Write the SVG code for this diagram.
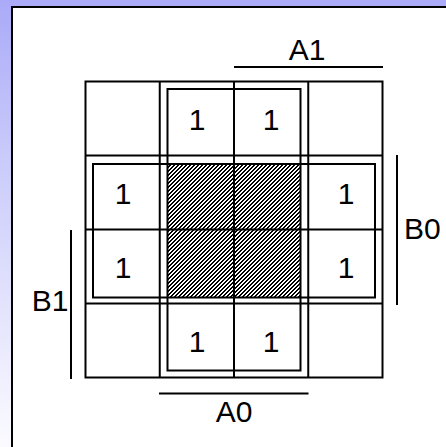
<svg xmlns="http://www.w3.org/2000/svg" width="446" height="447" viewBox="0 0 446 447">
<defs>
<linearGradient id="bg" x1="0" y1="0" x2="0" y2="1">
<stop offset="0" stop-color="#aaaaf8"/>
<stop offset="0.35" stop-color="#cacafb"/>
<stop offset="1" stop-color="#fbfbff"/>
</linearGradient>
<pattern id="hatch" x="0" y="0" width="4" height="4" patternUnits="userSpaceOnUse">
<rect width="4" height="4" fill="#fff"/>
<g fill="#000" shape-rendering="crispEdges">
<rect x="2" y="0" width="2" height="1"/>
<rect x="1" y="1" width="2" height="1"/>
<rect x="0" y="2" width="2" height="1"/>
<rect x="0" y="3" width="1" height="1"/>
<rect x="3" y="3" width="1" height="1"/>
</g>
</pattern>
<style>
.g{fill:none;stroke:#000;stroke-width:2}
.t{font-family:"Liberation Sans",Arial,sans-serif;font-size:30px;fill:#000}
.m{text-anchor:middle}
</style>
</defs>
<rect width="446" height="447" fill="url(#bg)"/>
<rect x="12" y="7" width="440" height="446" fill="#fff" stroke="#000" stroke-width="2"/>
<g id="hatched">
<rect x="168" y="165" width="132" height="132" fill="url(#hatch)"/>
</g>
<g id="grid" class="g">
<rect x="85.5" y="81.5" width="297" height="296"/>
<line x1="159.75" y1="81.5" x2="159.75" y2="377.5"/>
<line x1="234" y1="81.5" x2="234" y2="377.5"/>
<line x1="308.25" y1="81.5" x2="308.25" y2="377.5"/>
<line x1="85.5" y1="155.5" x2="382.5" y2="155.5"/>
<line x1="85.5" y1="229.5" x2="382.5" y2="229.5"/>
<line x1="85.5" y1="303.5" x2="382.5" y2="303.5"/>
</g>
<g id="loops" class="g">
<rect id="loop-vertical" x="167.5" y="89" width="133" height="281.5"/>
<rect id="loop-horizontal" x="93" y="164" width="282" height="133.5"/>
</g>
<g id="ones" class="t m">
<text x="197" y="130">1</text>
<text x="271" y="130">1</text>
<text x="123" y="204">1</text>
<text x="346" y="204">1</text>
<text x="123" y="278">1</text>
<text x="346" y="278">1</text>
<text x="197" y="352">1</text>
<text x="271" y="352">1</text>
</g>
<g id="bars" class="g">
<line x1="234" y1="67" x2="383" y2="67"/>
<line x1="159" y1="393.5" x2="308.5" y2="393.5"/>
<line x1="397" y1="155" x2="397" y2="305"/>
<line x1="71" y1="230" x2="71" y2="379"/>
</g>
<g id="labels" class="t">
<text class="m" x="307" y="60">A1</text>
<text class="m" x="234" y="422">A0</text>
<text x="404" y="239">B0</text>
<text x="68.5" y="311" text-anchor="end">B1</text>
</g>
</svg>
